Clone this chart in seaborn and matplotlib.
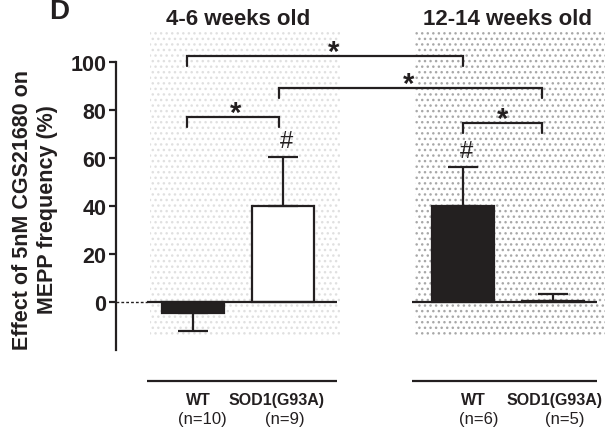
import numpy as np
import pandas as pd
import matplotlib
matplotlib.use("Agg")
import matplotlib.pyplot as plt
from matplotlib.patches import Rectangle
import seaborn as sns

# ---- data ----
groups = ["4-6 weeks old", "12-14 weeks old"]
genotypes = ["WT", "SOD1(G93A)"]
n_labels = ["(n=10)", "(n=9)", "(n=6)", "(n=5)"]
means = [-4.6, 40.0, 40.0, 0.3]
sems = [7.5, 20.4, 16.2, 3.0]
y_ticks = [0, 20, 40, 60, 80, 100]
hash_bars = [1, 2]                      # bars marked with '#'
brackets = [(0, 2, 0), (1, 3, 1), (0, 1, 2), (2, 3, 3)]  # (bar i, bar j, level)

sns.set_style("ticks")
plt.rcParams["font.family"] = ["Liberation Sans", "DejaVu Sans"]

gi = np.repeat(np.arange(len(groups)), len(genotypes))
ki = np.tile(np.arange(len(genotypes)), len(groups))
pos = gi * 3 + ki
df = pd.DataFrame({
    "pos": pos,
    "mean": means,
    "genotype": [genotypes[k] for k in ki],
    "group": [groups[g] for g in gi],
})

BLACK = "#231f20"
fig = plt.figure(figsize=(6.13, 4.35), dpi=100)
ax = fig.add_axes([116 / 613, 0, 1 - 116 / 613, 1])

# dotted background panels
panel_y0, panel_y1 = -14.6, 113.0
for g, col in zip(range(len(groups)), ["#e0e0e0", "#a8a8a8"]):
    x0 = g * 3 - 0.48 if g == 0 else g * 3 - 0.53
    w = 2.11
    ax.add_patch(Rectangle((x0, panel_y0), w, panel_y1 - panel_y0, facecolor="white",
                           edgecolor=col, hatch="...", lw=0, zorder=0))

sns.barplot(data=df, x="pos", y="mean", hue="genotype", hue_order=genotypes,
            palette={"WT": BLACK, "SOD1(G93A)": "white"}, native_scale=True,
            dodge=False, width=0.69, edgecolor=BLACK, linewidth=1.6,
            errorbar=None, legend=False, ax=ax, zorder=3)

m = np.array(means)
s = np.array(sems)
lower = np.where(m < 0, s, 0)
upper = np.where(m >= 0, s, 0)
ax.errorbar(pos, m, yerr=[lower, upper], fmt="none", ecolor=BLACK,
            elinewidth=1.6, capsize=11, capthick=1.6, zorder=4)

# baselines at zero
xl = -0.856
ax.plot([xl, -0.51], [0, 0], color=BLACK, lw=1, ls=(0, (2, 1.5)), zorder=5, clip_on=False)
for g in range(len(groups)):
    a, b = (g * 3 - 0.51, g * 3 + 1.6) if g == 0 else (g * 3 - 0.57, g * 3 + 1.49)
    ax.plot([a, b], [0, 0], color=BLACK, lw=1.6, zorder=5, solid_capstyle="butt")
    ax.plot([a, b], [-33.0, -33.0], color=BLACK, lw=1.6, clip_on=False, solid_capstyle="butt")
    ax.text(g * 3 + 0.5, 118, groups[g], ha="center", va="center",
            fontsize=16, fontweight="bold", color=BLACK)

# x labels
name_dx = [0.06, -0.07, 0.12, 0.02]
n_dx = [0.10, 0.02, 0.17, 0.13]
for i in range(len(pos)):
    ax.text(pos[i] + name_dx[i], -40.8, genotypes[ki[i]], ha="center", va="center",
            fontsize=11.5, fontweight="bold", color=BLACK)
    ax.text(pos[i] + n_dx[i], -48.7, n_labels[i], ha="center", va="center",
            fontsize=12, color=BLACK)

# '#' markers
for i in hash_bars:
    ax.text(pos[i] + 0.04, m[i] + s[i] + 2.0, "#", ha="center", va="bottom",
            fontsize=17, color=BLACK)

# significance brackets
ann_dx = [-0.07, -0.04, 0.0, -0.12]
levels = [102.5, 89.2, 77.0, 74.6]
star_dx = [0.1, -0.02, 0.03, 0.0]
for i, j, lv in brackets:
    x1, x2 = pos[i] + ann_dx[i], pos[j] + ann_dx[j]
    yb = levels[lv]
    ax.plot([x1, x1, x2, x2], [yb - 4, yb, yb, yb - 4], color=BLACK, lw=1.6,
            clip_on=False, solid_joinstyle="miter")
    ax.text((x1 + x2) / 2 + star_dx[lv], yb - 1.5, "*", ha="center", va="baseline",
            fontsize=21, fontweight="bold", color=BLACK)

ax.set_xlim(-0.856, 4.667)
ax.set_ylim(-55, 126.25)
ax.set_xticks([])
ax.set_xlabel("")
ax.set_ylabel("")
for sp in ["top", "right", "bottom"]:
    ax.spines[sp].set_visible(False)
ax.spines["left"].set_bounds(-20, 100)
ax.spines["left"].set_linewidth(1.6)
ax.spines["left"].set_color(BLACK)
ax.set_yticks(y_ticks)
ax.tick_params(axis="y", direction="out", length=5, width=1.6, labelsize=15.5, pad=2,
               color=BLACK, labelcolor=BLACK)
for lab in ax.get_yticklabels():
    lab.set_fontweight("bold")
ax.patch.set_alpha(0)

fig.text(35 / 613, 1 - 210 / 435, "Effect of 5nM CGS21680 on\nMEPP frequency (%)",
         rotation=90, ha="center", va="center", fontsize=15.5, fontweight="bold",
         color=BLACK, linespacing=1.2)
fig.text(59 / 613, 1 - 19 / 435, "D", ha="center", va="baseline", fontsize=20,
         fontweight="bold", color=BLACK)

fig.savefig("out.png", dpi=100)
